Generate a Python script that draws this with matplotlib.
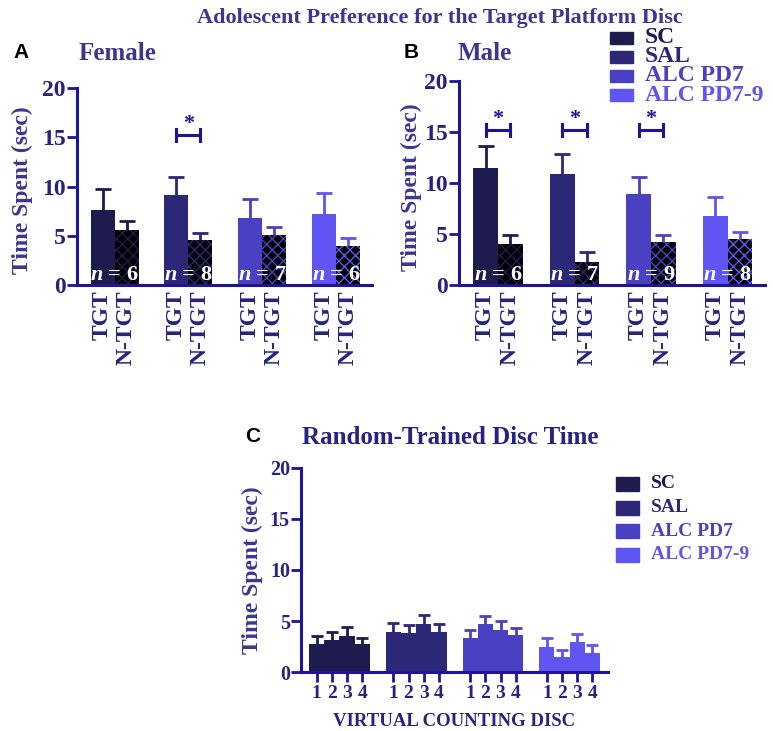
import matplotlib
matplotlib.use("Agg")
import matplotlib.pyplot as plt
from matplotlib.patches import Rectangle
import numpy as np

plt.rcParams["font.family"] = "Liberation Serif"
plt.rcParams["font.weight"] = "bold"
plt.rcParams["axes.labelweight"] = "bold"
plt.rcParams["mathtext.fontset"] = "custom"
plt.rcParams["mathtext.it"] = "Liberation Serif:bold:italic"
plt.rcParams["mathtext.rm"] = "Liberation Serif:bold"
plt.rcParams["hatch.linewidth"] = 1.0

# data
groups = ["SC", "SAL", "ALC PD7", "ALC PD7-9"]
colors = ["#1e1b4e", "#2d2778", "#4a40c2", "#5e55f2"]

female_tgt = [7.6, 9.1, 6.8, 7.2]
female_tgt_err = [2.1, 1.9, 1.9, 2.1]
female_ntgt = [5.6, 4.6, 5.1, 4.0]
female_ntgt_err = [0.9, 0.7, 0.8, 0.8]
female_n = [6, 8, 7, 6]
female_sig = [False, True, False, False]

male_tgt = [11.5, 10.9, 8.9, 6.8]
male_tgt_err = [2.1, 1.9, 1.7, 1.8]
male_ntgt = [4.0, 2.3, 4.2, 4.5]
male_ntgt_err = [0.9, 0.9, 0.7, 0.7]
male_n = [6, 7, 9, 8]
male_sig = [True, True, True, False]

disc_labels = ["1", "2", "3", "4"]
random_time = [
    [2.7, 3.1, 3.5, 2.7],
    [3.9, 3.8, 4.7, 3.9],
    [3.3, 4.7, 4.1, 3.6],
    [2.5, 1.5, 2.9, 1.9],
]
random_err = [
    [0.8, 0.8, 0.9, 0.6],
    [0.9, 0.8, 0.9, 0.8],
    [0.8, 0.8, 0.9, 0.7],
    [0.8, 0.7, 0.8, 0.7],
]

AXC = "#1e1496"
TXC = "#27237e"
LBC = "#3c3690"

fig = plt.figure(figsize=(7.73, 7.31), dpi=100)


def upper_err(ax, x, y, e, c, cap):
    # only the upper half of the error bar, like the original
    eb = ax.errorbar(x, y, yerr=[[0], [e]], color=c, elinewidth=2,
                     capsize=cap, capthick=2)
    eb[1][0].set_visible(False)


def style_axes(ax, tick_size):
    for s in ["top", "right"]:
        ax.spines[s].set_visible(False)
    for s in ["left", "bottom"]:
        ax.spines[s].set_color(AXC)
        ax.spines[s].set_linewidth(2.2)
    ax.set_ylim(0, 20)
    ax.set_yticks([0, 5, 10, 15, 20])
    ax.tick_params(axis="y", colors=AXC, width=2, length=7, pad=1,
                   labelsize=tick_size, labelcolor=TXC)


def tgt_panel(ax, tgt, tgt_err, ntgt, ntgt_err, ns, sig, label_x):
    w = 0.325
    x = np.arange(len(groups))
    for i in range(len(groups)):
        c = colors[i]
        ax.bar(x[i] - w / 2, tgt[i], w, color=c, linewidth=0)
        ax.bar(x[i] + w / 2, ntgt[i], w, facecolor="black", edgecolor=c,
               hatch="xxx", linewidth=0)
        upper_err(ax, x[i] - w / 2, tgt[i], tgt_err[i], c, 6)
        upper_err(ax, x[i] + w / 2, ntgt[i], ntgt_err[i], c, 6)
        ax.text(x[i], 1.0, r"$n$ = %d" % ns[i], color="white", fontsize=16,
                ha="center", va="center")
        if sig[i]:
            y = 15.2
            ax.plot([x[i] - w / 2, x[i] + w / 2], [y, y], color=AXC, lw=2.2)
            ax.plot([x[i] - w / 2] * 2, [y - 0.6, y + 0.6], color=AXC, lw=2.2)
            ax.plot([x[i] + w / 2] * 2, [y - 0.6, y + 0.6], color=AXC, lw=2.2)
            ax.text(x[i], y + 0.1, "*", color=AXC, fontsize=16, ha="center",
                    va="bottom")
    ticks = []
    labels = []
    for i in range(len(groups)):
        ticks += [x[i] - w / 2, x[i] + w / 2]
        labels += ["TGT", "N-TGT"]
    ax.set_xticks(ticks)
    ax.set_xticklabels(labels, rotation=90, fontsize=17, color=TXC)
    ax.tick_params(axis="x", length=0, pad=4)
    ax.set_xlim(-0.51, 3.49)
    style_axes(ax, 17)
    ax.set_ylabel("Time Spent (sec)", fontsize=17, color=LBC)
    ax.yaxis.set_label_coords(label_x, 0.48)


axA = fig.add_axes([0.0996, 0.6101, 0.3816, 0.2695])
tgt_panel(axA, female_tgt, female_tgt_err, female_ntgt, female_ntgt_err,
          female_n, female_sig, -0.15)
axB = fig.add_axes([0.5938, 0.6101, 0.3959, 0.2791])
tgt_panel(axB, male_tgt, male_tgt_err, male_ntgt, male_ntgt_err,
          male_n, male_sig, -0.12)

# panel C
axC = fig.add_axes([0.3894, 0.0807, 0.3972, 0.2791])
bw = 0.198
centers = []
for g in range(len(groups)):
    for d in range(len(disc_labels)):
        xc = g + (d - 1.5) * bw
        centers.append(xc)
        axC.bar(xc, random_time[g][d], bw, color=colors[g], linewidth=0)
        upper_err(axC, xc, random_time[g][d], random_err[g][d], colors[g], 4)
axC.set_xticks(centers)
axC.set_xticklabels(disc_labels * len(groups), fontsize=14, color=TXC)
axC.tick_params(axis="x", colors=AXC, width=2, length=7, pad=2, labelcolor=TXC)
axC.set_xlim(-0.5, 3.5)
style_axes(axC, 14.5)
axC.set_ylabel("Time Spent (sec)", fontsize=17, color=LBC)
axC.yaxis.set_label_coords(-0.124, 0.5)
axC.set_xlabel("VIRTUAL COUNTING DISC", fontsize=13.5, color=TXC, labelpad=8)

# titles and panel letters
H = 731.0
W = 773.0
fig.text(440 / W, 1 - 18 / H, "Adolescent Preference for the Target Platform Disc",
         fontsize=16, color=LBC, ha="center", va="center")
fig.text(79 / W, 1 - 53 / H, "Female", fontsize=18, color=LBC, va="center")
fig.text(458 / W, 1 - 53 / H, "Male", fontsize=18, color=LBC, va="center")
fig.text(302 / W, 1 - 437 / H, "Random-Trained Disc Time", fontsize=18,
         color=TXC, va="center")
for lx, ly, lt in [(13, 53, "A"), (404, 53, "B"), (245, 437, "C")]:
    fig.text(lx / W, 1 - ly / H, lt, fontsize=15, family="Liberation Sans",
             fontweight="bold", color="black", va="center")

# legends
for i, g in enumerate(groups):
    yc = 37.5 + i * 19.2
    fig.add_artist(Rectangle((610 / W, 1 - (yc + 6) / H), 23 / W, 12 / H,
                             transform=fig.transFigure, color=colors[i]))
    fig.text(645 / W, 1 - yc / H, g, fontsize=17, color=colors[i], va="center")
    yc2 = 484 + i * 23.6
    fig.add_artist(Rectangle((616 / W, 1 - (yc2 + 7) / H), 23 / W, 14 / H,
                             transform=fig.transFigure, color=colors[i]))
    fig.text(651 / W, 1 - yc2 / H, g, fontsize=14, color=colors[i], va="center")

fig.savefig("out.png", dpi=100)
